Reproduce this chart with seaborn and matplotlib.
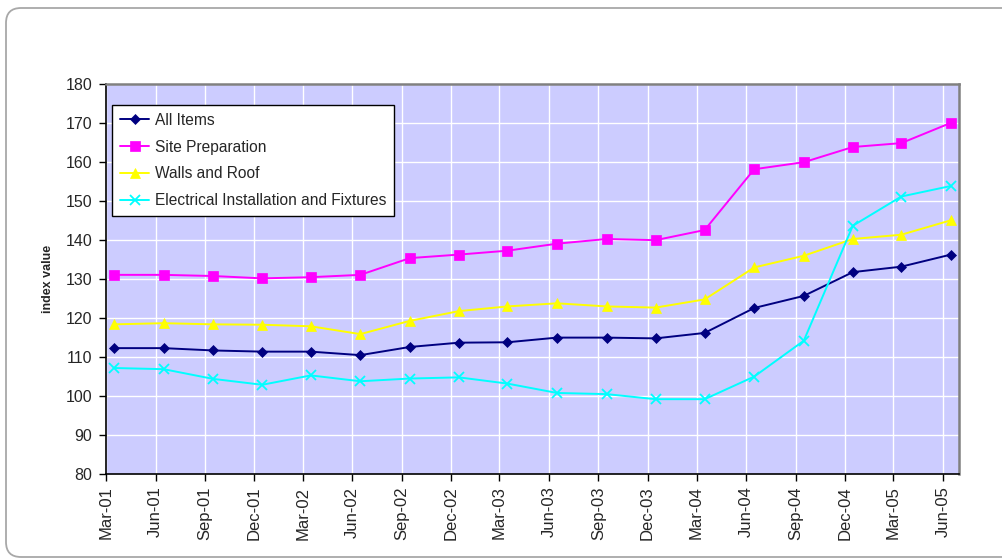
import numpy as np
import pandas as pd
import matplotlib
matplotlib.use("Agg")
import matplotlib.pyplot as plt
import matplotlib.dates as mdates
from matplotlib.patches import FancyBboxPatch
import seaborn as sns

# ================= data =================
QUARTERS = ['Mar-01', 'Jun-01', 'Sep-01', 'Dec-01', 'Mar-02', 'Jun-02', 'Sep-02', 'Dec-02',
            'Mar-03', 'Jun-03', 'Sep-03', 'Dec-03', 'Mar-04', 'Jun-04', 'Sep-04', 'Dec-04',
            'Mar-05', 'Jun-05']

all_items = [112.3, 112.3, 111.7, 111.4, 111.4, 110.5, 112.6, 113.7, 113.8, 115.0,
             115.0, 114.8, 116.2, 122.6, 125.7, 131.8, 133.2, 136.3]
site_prep = [131.1, 131.1, 130.8, 130.2, 130.5, 131.1, 135.4, 136.3, 137.3, 139.1,
             140.3, 140.0, 142.6, 158.2, 160.0, 163.9, 164.9, 170.1]
walls_roof = [118.4, 118.7, 118.4, 118.3, 117.9, 115.9, 119.3, 121.8, 123.0, 123.8,
              123.0, 122.7, 124.8, 133.0, 136.0, 140.3, 141.4, 145.1]
electrical = [107.2, 106.9, 104.4, 102.9, 105.3, 103.8, 104.5, 104.8, 103.2, 100.8,
              100.5, 99.2, 99.2, 105.0, 114.2, 143.7, 151.2, 153.9]

SERIES = ['All Items', 'Site Preparation', 'Walls and Roof', 'Electrical Installation and Fixtures']
COLORS = ['#000080', '#FF00FF', '#FFFF00', '#00FFFF']
MARKERS = ['D', 's', '^', 'x']
MSIZES = [5.5, 7.5, 7.5, 7.5]
# =======================================

# quarter tick on the 1st of the month, observation mid-month
tick_dates = pd.to_datetime(QUARTERS, format='%b-%y')
obs_dates = tick_dates + pd.Timedelta(days=15)

df = pd.DataFrame({'date': np.tile(obs_dates, 4),
                   'value': all_items + site_prep + walls_roof + electrical,
                   'series': np.repeat(SERIES, len(QUARTERS))})

sns.set_style('whitegrid')
plt.rcParams['font.family'] = ['Liberation Sans', 'DejaVu Sans']

fig = plt.figure(figsize=(10.03, 5.58), dpi=100)
ax = fig.add_axes([0.1057, 0.1505, 0.8504, 0.6985])
ax.set_facecolor('#CCCCFF')

for name, col, mk, ms in zip(SERIES, COLORS, MARKERS, MSIZES):
    sub = df[df['series'] == name]
    sns.lineplot(data=sub, x='date', y='value', ax=ax, color=col, marker=mk,
                 markersize=ms, markeredgecolor=col, markeredgewidth=1.3 if mk == 'x' else 0.5,
                 linewidth=1.4, label=name)

ax.set_ylim(80, 180)
ax.set_yticks(np.arange(80, 181, 10))
ax.set_xlim(pd.Timestamp('2001-03-01'), pd.Timestamp('2005-07-01'))
ax.set_xticks(tick_dates)
ax.xaxis.set_major_formatter(mdates.DateFormatter('%b-%y'))
plt.setp(ax.get_xticklabels(), rotation=90)

ax.grid(True, color='white', linewidth=1.0)
ax.tick_params(axis='both', which='major', direction='out', length=5, width=1, color='black',
               bottom=True, left=True)
ax.tick_params(axis='y', labelsize=11.5, pad=5)
ax.tick_params(axis='x', labelsize=12, pad=4)

for side in ['left', 'bottom']:
    ax.spines[side].set_color('black')
    ax.spines[side].set_linewidth(1.2)
for side in ['top', 'right']:
    ax.spines[side].set_color('#808080')
    ax.spines[side].set_linewidth(1.8)

ax.set_xlabel('')
ax.set_ylabel('index value', fontsize=9, fontweight='bold', labelpad=8)

leg = ax.legend(loc='upper left', bbox_to_anchor=(0.007, 0.947), borderaxespad=0,
                fontsize=11.2, frameon=True, fancybox=False, handlelength=1.9,
                handletextpad=0.35, labelspacing=0.76, borderpad=0.5)
leg.get_frame().set_edgecolor('black')
leg.get_frame().set_facecolor('white')
leg.get_frame().set_linewidth(1.0)
leg.get_frame().set_alpha(1)

# outer rounded border of the chart area
border = FancyBboxPatch((0.06, 0.01), 11.0, 5.49, boxstyle='round,pad=0,rounding_size=0.15',
                        transform=fig.dpi_scale_trans, facecolor='none', edgecolor='#A8A8A8',
                        linewidth=1.3, clip_on=False)
fig.patches.append(border)

fig.savefig('out.png', dpi=100)
